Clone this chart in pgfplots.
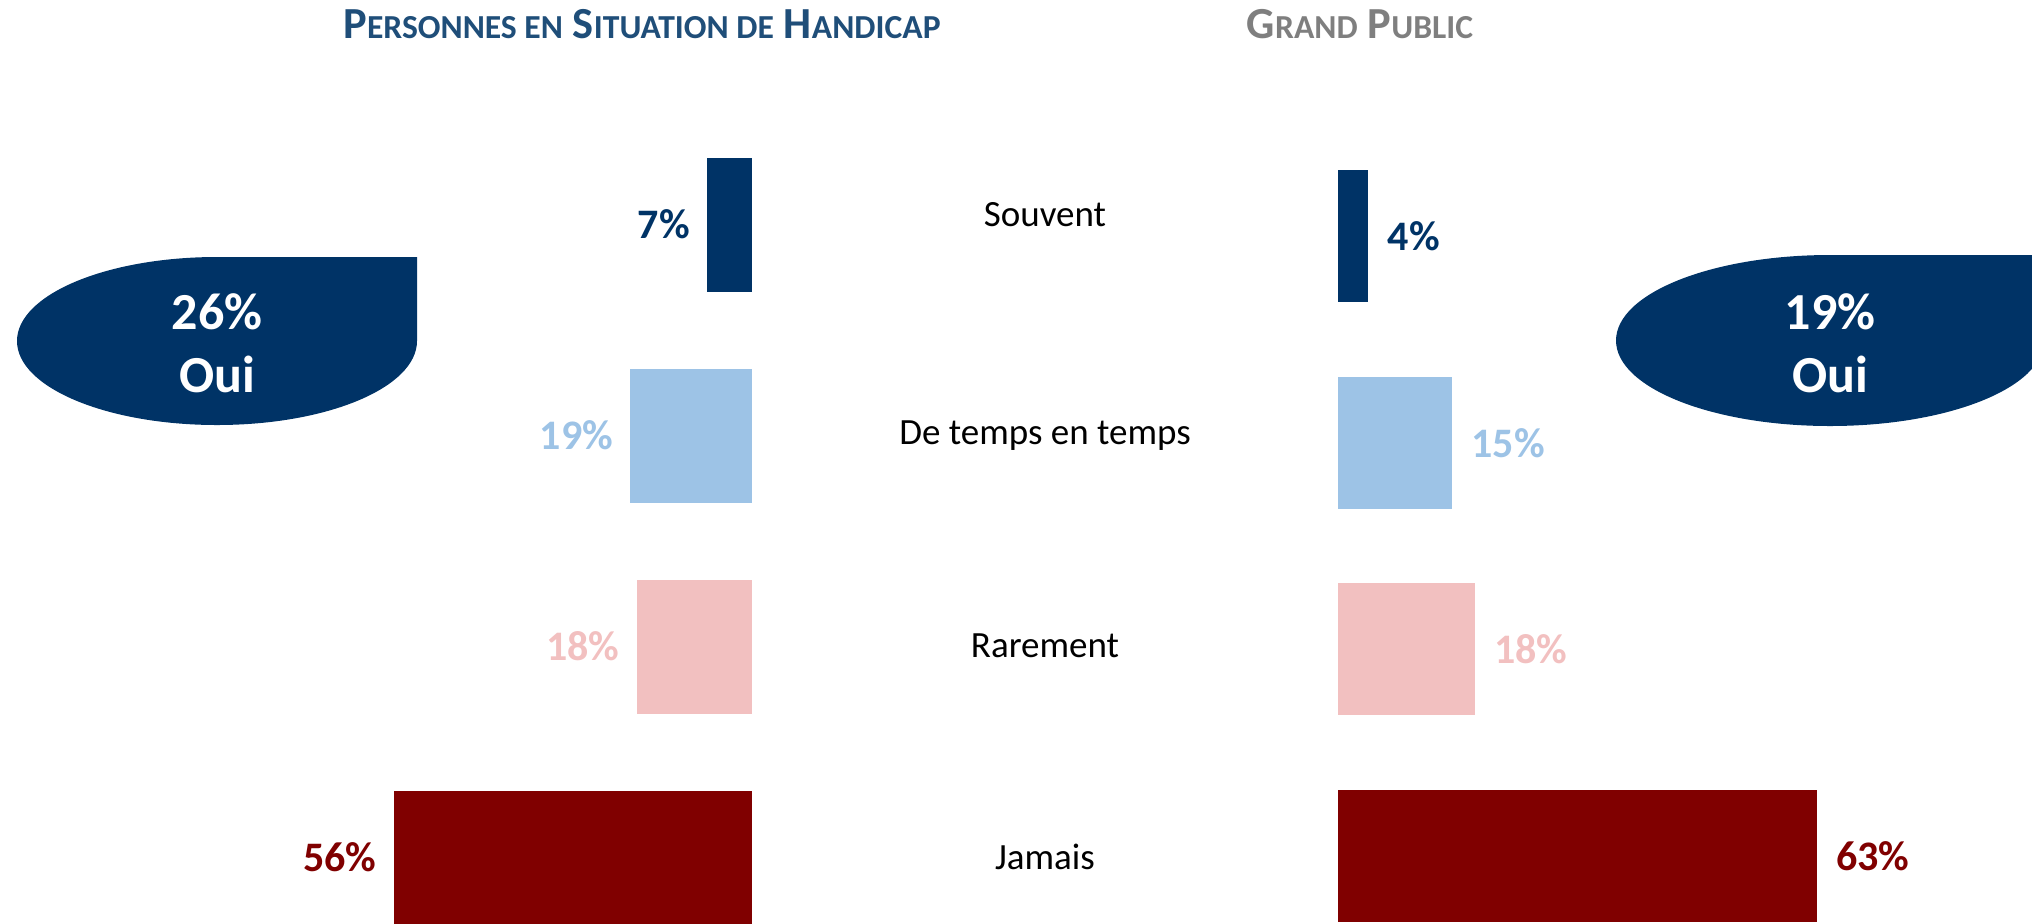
\documentclass[border=0pt]{standalone}
\usepackage{pgfplots}
\pgfplotsset{compat=1.18}
\usepackage{fontspec}
\setmainfont{Carlito}
\definecolor{navy}{HTML}{003366}
\definecolor{ciel}{HTML}{9DC3E6}
\definecolor{rose}{HTML}{F2C0C0}
\definecolor{bordeaux}{HTML}{800000}
\definecolor{titre}{HTML}{1F4E79}
\definecolor{gris}{HTML}{7F7F7F}
% fake small caps for the two headers
\newcommand\pc[1]{{\fontsize{16.8}{20}\selectfont #1}}
\pgfplotsset{
  barres/.style={xbar, bar shift=0pt, scale only axis, axis lines=none,
    ymin=-0.5, ymax=3.5, y dir=reverse, xmin=0, clip=false,
    point meta=x, /pgf/number format/assume math mode=true,
    nodes near coords={\pgfmathprintnumber{\pgfplotspointmeta}\%},
    nodes near coords style={font=\bfseries\fontsize{21}{25}\selectfont, inner sep=0pt}},
}
\begin{document}
\begin{tikzpicture}
\useasboundingbox (0,0) rectangle (1016pt,-461.5pt);
\clip (0,0) rectangle (1016pt,-461.5pt);

% Personnes en situation de handicap
\begin{axis}[barres, at={(376pt,-59.5pt)}, anchor=north east,
  width=192pt, height=422pt, x dir=reverse, xmax=60, bar width=67pt,
  nodes near coords style={anchor=east, xshift=-8.5pt}]
\addplot[fill=navy, draw=none, every node near coord/.append style={text=navy}] coordinates {(7,0)};
\addplot[fill=ciel, draw=none, every node near coord/.append style={text=ciel}] coordinates {(19,1)};
\addplot[fill=rose, draw=none, every node near coord/.append style={text=rose}] coordinates {(18,2)};
\addplot[fill=bordeaux, draw=none, every node near coord/.append style={text=bordeaux}] coordinates {(56,3)};
\end{axis}

% Grand public
\begin{axis}[barres, at={(669pt,-66.5pt)}, anchor=north west,
  width=266pt, height=413pt, xmax=70, bar width=66pt,
  nodes near coords style={anchor=west, xshift=9.5pt}]
\addplot[fill=navy, draw=none, every node near coord/.append style={text=navy}] coordinates {(4,0)};
\addplot[fill=ciel, draw=none, every node near coord/.append style={text=ciel}] coordinates {(15,1)};
\addplot[fill=rose, draw=none, every node near coord/.append style={text=rose}] coordinates {(18,2)};
\addplot[fill=bordeaux, draw=none, every node near coord/.append style={text=bordeaux}] coordinates {(63,3)};
\end{axis}

\begin{scope}[x=0.5pt, y=-0.5pt]
% headers
\node[anchor=base, text=titre, font=\bfseries\fontsize{22.2}{26}\selectfont] at (642,38)
  {P\pc{ERSONNES EN} S\pc{ITUATION DE} H\pc{ANDICAP}};
\node[anchor=base, text=gris, font=\bfseries\fontsize{22.2}{26}\selectfont] at (1360,38)
  {G\pc{RAND} P\pc{UBLIC}};

% categories
\begin{scope}[every node/.style={anchor=base, font=\fontsize{18.5}{22}\selectfont}]
\node at (1045,226) {Souvent};
\node at (1045,444) {De temps en temps};
\node at (1045,657) {Rarement};
\node at (1045,869) {Jamais};
\end{scope}

% "Oui" totals
\fill[navy] (216,257) -- (417,257) -- (417,341)
  arc[start angle=0, end angle=180, x radius=200, y radius=84]
  arc[start angle=180, end angle=270, x radius=200, y radius=84] -- cycle;
\fill[navy] (1830,255) -- (2044,255) -- (2044,340.5)
  arc[start angle=0, end angle=180, x radius=214, y radius=85.5]
  arc[start angle=180, end angle=270, x radius=214, y radius=85.5] -- cycle;
\begin{scope}[every node/.style={anchor=base, text=white, font=\bfseries\fontsize{26}{31}\selectfont}]
\node at (217,329) {26\%};
\node at (217,392) {Oui};
\node at (1830,329) {19\%};
\node at (1830,392) {Oui};
\end{scope}
\end{scope}
\end{tikzpicture}
\end{document}
